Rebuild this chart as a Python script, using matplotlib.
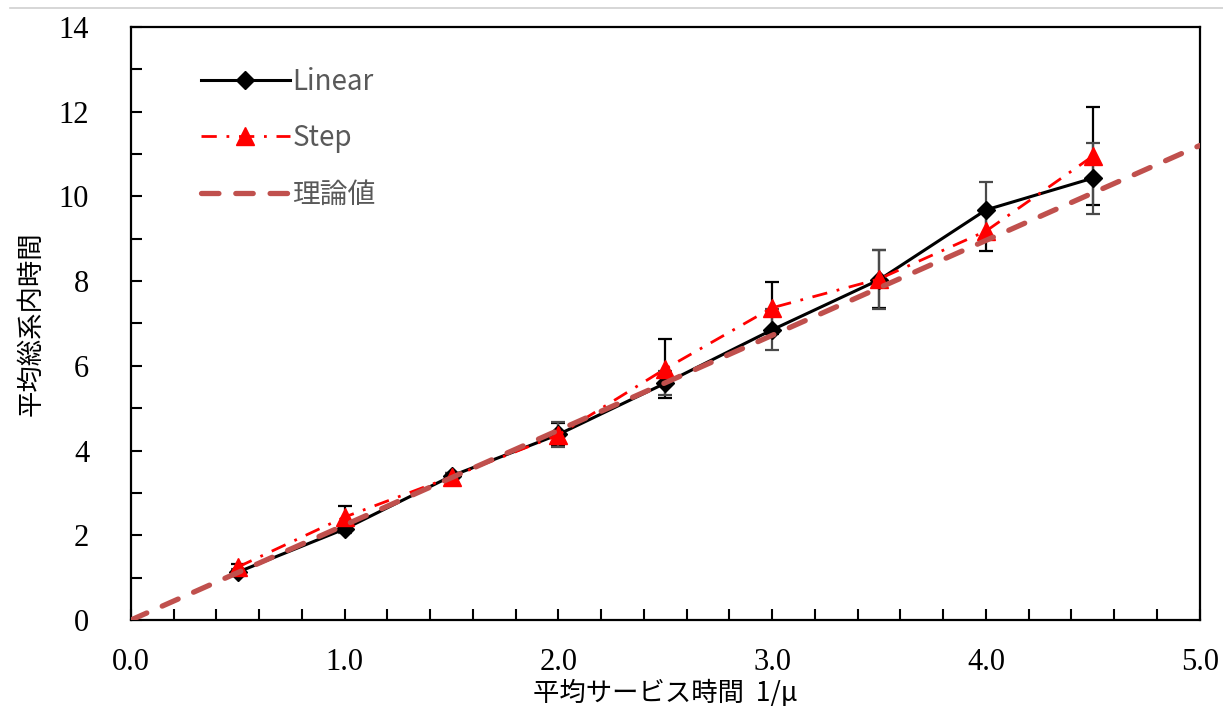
import numpy as np
import matplotlib
matplotlib.use("Agg")
import matplotlib.pyplot as plt
from matplotlib.lines import Line2D
from matplotlib.ticker import MultipleLocator, FormatStrFormatter

# data
x = [0.5, 1.0, 1.5, 2.0, 2.5, 3.0, 3.5, 4.0, 4.5]
linear = [1.13, 2.15, 3.40, 4.38, 5.59, 6.85, 8.03, 9.68, 10.43]
linear_err = [0.08, 0.10, 0.08, 0.30, 0.28, 0.48, 0.70, 0.66, 0.84]
step = [1.25, 2.43, 3.38, 4.37, 5.93, 7.37, 8.05, 9.18, 10.95]
step_err = [0.08, 0.26, 0.08, 0.27, 0.70, 0.61, 0.68, 0.47, 1.15]
theory_x = [0.0, 5.0]
theory_y = [0.0, 11.2]

cjk = ["Noto Sans CJK JP", "DejaVu Sans"]
serif = ["Liberation Serif", "DejaVu Serif"]

fig = plt.figure(figsize=(12.23, 7.07), dpi=100)
ax = fig.add_axes([0.107, 0.123, 0.874, 0.839])

# error bars first so the markers sit on them
ax.errorbar(x, step, yerr=step_err, fmt="none", ecolor="black",
            elinewidth=1.6, capsize=5, capthick=1.6, zorder=2)
ax.errorbar(x, linear, yerr=linear_err, fmt="none", ecolor="#4a4a4a",
            elinewidth=1.6, capsize=5, capthick=1.6, zorder=2)

ax.plot(x, linear, color="black", lw=2.2, marker="D", ms=9,
        label="Linear", zorder=3)
ax.plot(x, step, color="#FF0000", lw=2, linestyle=(0, (5.5, 3.5, 1, 3.5)),
        marker="^", ms=13, label="Step", zorder=4)
ax.plot(theory_x, theory_y, color="#C0504D", lw=3.8,
        linestyle=(0, (3.3, 3.2)), dash_capstyle="round",
        label="理論値", zorder=5)

ax.set_xlim(0, 5)
ax.set_ylim(0, 14)
ax.xaxis.set_major_locator(MultipleLocator(1.0))
ax.xaxis.set_minor_locator(MultipleLocator(0.2))
ax.yaxis.set_major_locator(MultipleLocator(2))
ax.yaxis.set_minor_locator(MultipleLocator(1))
ax.xaxis.set_major_formatter(FormatStrFormatter("%.1f"))
ax.tick_params(which="both", direction="in", width=1.5, color="black")
ax.tick_params(which="major", length=8)
ax.tick_params(which="minor", length=8)
ax.tick_params(axis="x", which="both", top=False, pad=20)
ax.tick_params(axis="y", which="both", right=False, pad=30)
for lab in ax.get_xticklabels() + ax.get_yticklabels():
    lab.set_family(serif)
    lab.set_fontsize(22)
for sp in ax.spines.values():
    sp.set_linewidth(1.6)

ax.set_xlabel("平均サービス時間  1/μ", family=cjk, fontsize=19, labelpad=2)
ax.set_ylabel("平均総系内時間", family=cjk, fontsize=19, labelpad=10)

leg = ax.legend(loc="upper left", bbox_to_anchor=(0.042, 0.975), frameon=False,
                handlelength=3.2, handletextpad=0.1, labelspacing=0.95,
                prop={"family": cjk, "size": 20})
for t in leg.get_texts():
    t.set_color("#595959")

fig.add_artist(Line2D([0.008, 1.0], [0.988, 0.988], color="#d0d0d0", lw=1.2))

fig.savefig("out.png", dpi=100)
